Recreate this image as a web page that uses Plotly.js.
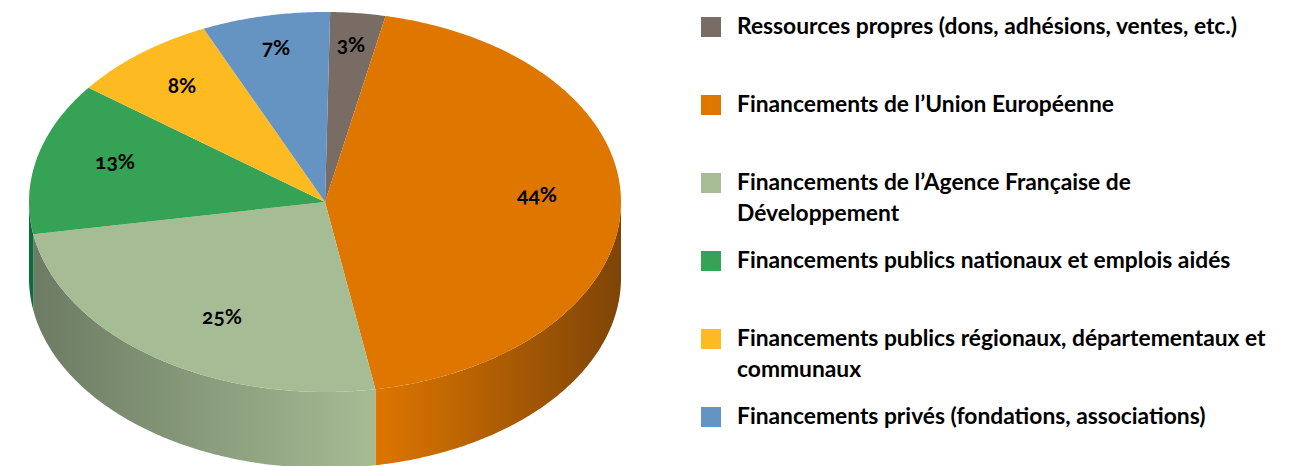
<!DOCTYPE html>
<html><head><meta charset="utf-8">
<script src="https://cdn.plot.ly/plotly-3.0.1.min.js"></script>
<style>html,body{margin:0;padding:0;background:#fff;overflow:hidden}
#c text{font-feature-settings:"onum" 1;font-variant-numeric:oldstyle-nums}</style>
</head><body><div id="c" style="width:1297px;height:466px"></div>
<script>
const categories=["Ressources propres (dons, adhésions, ventes, etc.)","Financements de l’Union Européenne","Financements de l’Agence Française de Développement","Financements publics nationaux et emplois aidés","Financements publics régionaux, départementaux et communaux","Financements privés (fondations, associations)"];
const shares=[3,44,25,13,8,7];
const colors=["#786c65","#de7600","#a5bc94","#36a255","#fdbb21","#6594c2"];
const wallDark=["#786c65","#7e4407","#6c7b63","#0c6b3a","#fdbb21","#6594c2"];
const legendLines=[["Ressources propres (dons, adhésions, ventes, etc.)"],["Financements de l’Union Européenne"],["Financements de l’Agence Française de","Développement"],["Financements publics nationaux et emplois aidés"],["Financements publics régionaux, départementaux et","communaux"],["Financements privés (fondations, associations)"]];
const legendY=[27,105,183,261,339,417];
const labelX=[351,537,222,115,182,276];
const labelY=[47,197,319,164,88,50];
const cx=325,cy=202,rx=296,ry=190,depth=76,startDeg=1;
const FONT="Lato, 'Noto Sans', sans-serif";
const rad=d=>d*Math.PI/180;
const px=d=>cx+rx*Math.sin(rad(d));
const py=d=>cy-ry*Math.cos(rad(d));
function arc(a,b){const n=Math.max(2,Math.ceil(Math.abs(b-a)*2));const o=[];for(let i=0;i<=n;i++)o.push(a+(b-a)*i/n);return o;}
const traces=[];let acc=startDeg;const spans=shares.map(v=>{const s=[acc,acc+v*3.6];acc=s[1];return s;});
// side walls (front half only)
spans.forEach((s,i)=>{
  const a=Math.max(s[0],90),b=Math.min(s[1],270);
  if(b<=a)return;
  const A=arc(a,b),R=A.slice().reverse();
  traces.push({type:"scatter",mode:"none",hoverinfo:"skip",fill:"toself",
    x:A.map(px).concat(R.map(px)),
    y:A.map(d=>py(d)).concat(R.map(d=>py(d)+depth)),
    fillgradient:{type:"horizontal",colorscale:i===1?[[0,colors[i]],[1,wallDark[i]]]:[[0,wallDark[i]],[1,i===3?wallDark[i]:colors[i]]]}});
});
// top slices
spans.forEach((s,i)=>{
  const A=arc(s[0],s[1]);
  traces.push({type:"scatter",mode:"none",name:categories[i],fill:"toself",fillcolor:colors[i],hoverinfo:"name",
    x:[cx].concat(A.map(px),[cx]),y:[cy].concat(A.map(py),[cy])});
});
// percentage labels
traces.push({type:"scatter",mode:"text",hoverinfo:"skip",x:labelX,y:labelY,text:shares.map(v=>v+"%"),
  textposition:"middle center",textfont:{family:FONT,size:21,color:"#000",weight:700}});
// legend swatches
traces.push({type:"scatter",mode:"markers",hoverinfo:"skip",x:legendY.map(()=>711),y:legendY,
  marker:{symbol:"square",size:20,color:colors,line:{width:0}}});
const annotations=[];
legendLines.forEach((ls,i)=>ls.forEach((t,j)=>annotations.push({x:735,y:legendY[i]-2+j*31,text:t,showarrow:false,xanchor:"left",yanchor:"middle",xref:"x",yref:"y",font:{family:FONT,size:22.8,color:"#000",weight:700}})));
Plotly.newPlot("c",traces,{width:1297,height:466,margin:{l:0,r:0,t:0,b:0},showlegend:false,paper_bgcolor:"#fff",plot_bgcolor:"#fff",
 xaxis:{range:[0,1297],visible:false,fixedrange:true},yaxis:{range:[466,0],visible:false,fixedrange:true},annotations},{displayModeBar:false,staticPlot:true});
</script></body></html>
